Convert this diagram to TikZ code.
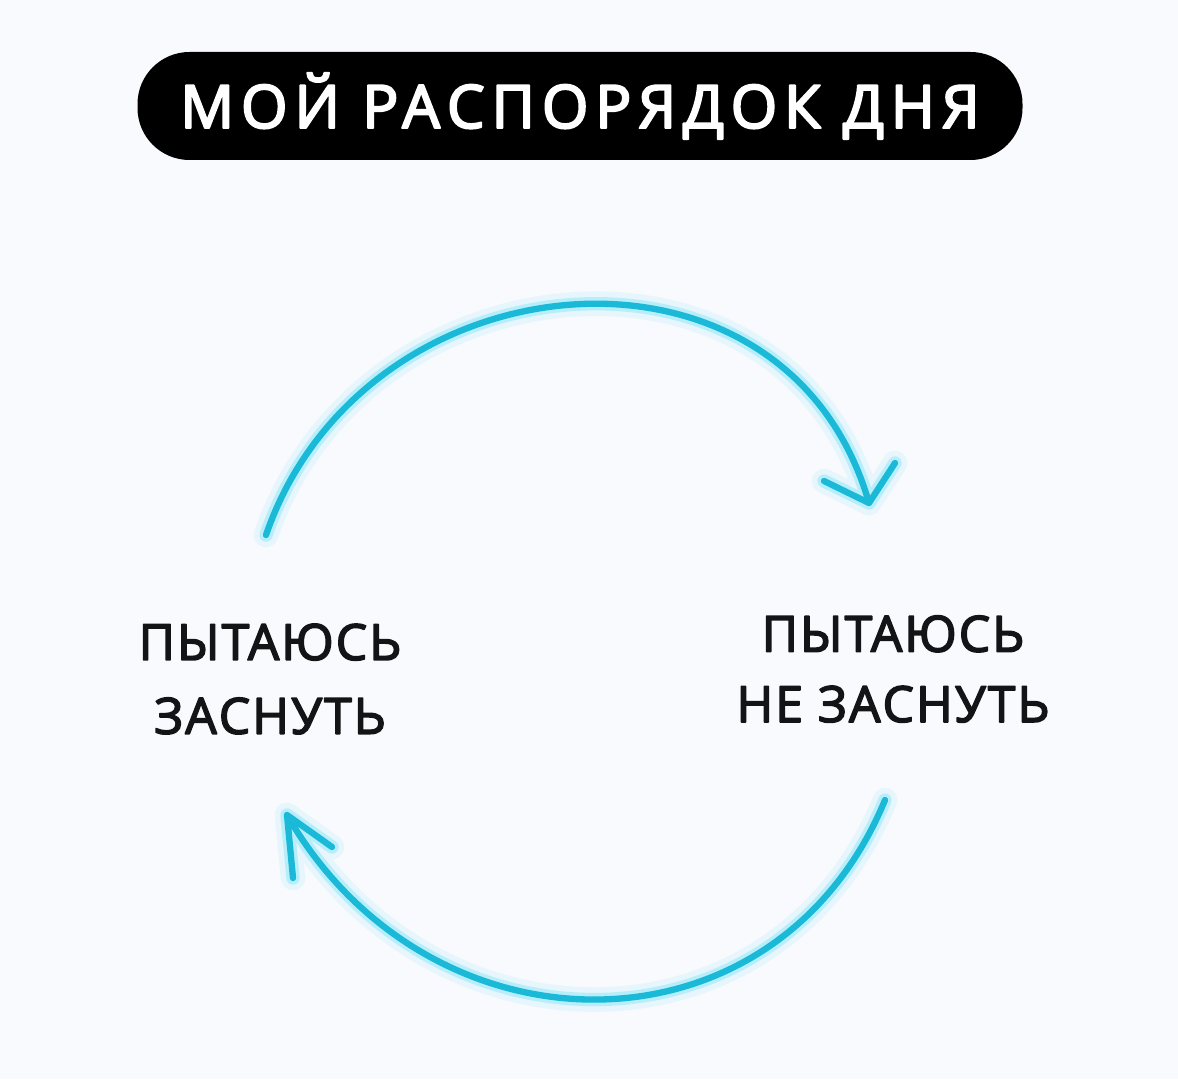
\documentclass[tikz,border=0pt]{standalone}
\usepackage{fontspec}
\setmainfont{Open Sans}
\newfontfamily\titlefont[LetterSpace=11.5,FakeBold=3.5]{Open Sans}
\newfontfamily\labelfont[LetterSpace=4,FakeBold=3]{Open Sans}
\definecolor{paper}{RGB}{248,250,253}
\definecolor{ink}{RGB}{20,20,22}
\definecolor{loopcyan}{RGB}{25,185,215}
\definecolor{glowcyan}{RGB}{100,225,245}
\begin{document}
\begin{tikzpicture}[
	line cap=round,
	line join=round,
	haze/.style={draw=glowcyan,line width=7pt,opacity=.12},
	glow/.style={draw=glowcyan,line width=3.8pt,opacity=.35},
	loopline/.style={draw=loopcyan,line width=1.8pt},
	banner/.style={fill=black,text=white,rounded corners=5.2mm,minimum width=8.85cm,minimum height=1.08cm,font=\titlefont\fontsize{17}{20}\selectfont},
	sleeplabel/.style={text=ink,align=center,font=\labelfont\fontsize{14.2}{21}\selectfont}
	]
	\fill[paper] (0,0) rectangle (11.78,10.79);
	\node[banner] (title) at (5.80,9.73) {МОЙ РАСПОРЯДОК ДНЯ};
	\node[sleeplabel] (sleep) at (2.70,4.00) {ПЫТАЮСЬ\\ЗАСНУТЬ};
	\node[sleeplabel] (awake) at (8.93,4.10) {ПЫТАЮСЬ\\[-1pt]НЕ ЗАСНУТЬ};
	% loop ends
	\coordinate (topstart) at (2.66,5.44);
	\coordinate (topend) at (8.69,5.76);
	\coordinate (botstart) at (8.85,2.79);
	\coordinate (botend) at (2.87,2.64);
	\foreach \layer in {haze,glow,loopline}{
		\draw[\layer] (topstart) .. controls +(71:3) and +(106:3) .. (topend)
			(topend) -- +(-0.45,0.22) (topend) -- +(0.26,0.40);
		\draw[\layer] (botstart) .. controls +(247.6:2.86) and +(300:2.86) .. (botend)
			(botend) -- +(0.45,-0.32) (botend) -- +(0.06,-0.63);
	}
\end{tikzpicture}
\end{document}
